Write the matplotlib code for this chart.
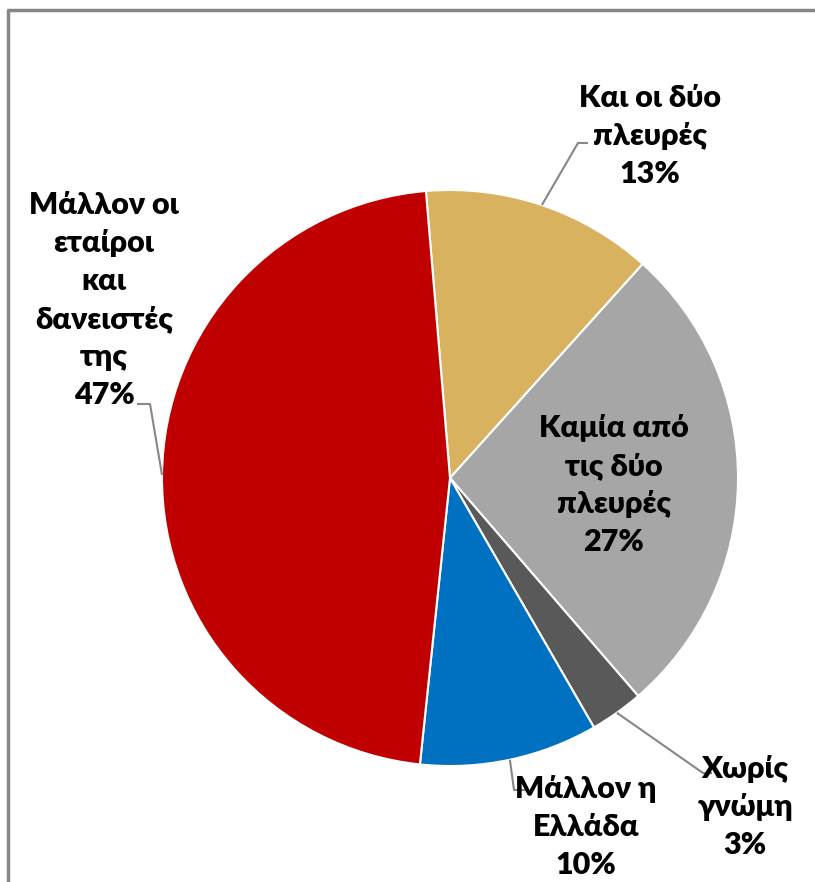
import matplotlib
matplotlib.use('Agg')
import matplotlib.pyplot as plt
import numpy as np

plt.rcParams['font.family'] = ['Lato', 'Noto Sans', 'DejaVu Sans']

labels = ['Και οι δύο\nπλευρές', 'Καμία από\nτις δύο\nπλευρές', 'Χωρίς\nγνώμη',
          'Μάλλον η\nΕλλάδα', 'Μάλλον οι\nεταίροι\nκαι\nδανειστές\nτης']
values = [13, 27, 3, 10, 47]
colors = ['#D9B25F', '#A6A6A6', '#595959', '#0070C0', '#C00000']

W, H = 815, 882
fig = plt.figure(figsize=(W / 100, H / 100), dpi=100)
ax = fig.add_axes([0, 0, 1, 1])

def py(y):
    return H - y

cx, cy, R = 450, py(478), 288
wedges, _ = ax.pie(values, colors=colors, startangle=94.8, counterclock=False,
                   center=(cx, cy), radius=R, frame=True,
                   wedgeprops=dict(edgecolor='white', linewidth=1.5))
ax.set_xlim(0, W)
ax.set_ylim(0, H)
ax.set_aspect('equal')
ax.axis('off')

# label layout: (text x, text y, elbow, line end) in pixel coords; None = inside
layout = [
    (650, 136, (578, 143), (588, 143)),
    (614, 485, None, None),
    (745, 807, (703, 773), (712, 773)),
    (586, 827, (514, 790), (527, 790)),
    (104, 300, (150, 404), (137, 404)),
]

for w, lab, v, (tx, ty, elb, end) in zip(wedges, labels, values, layout):
    ax.text(tx, py(ty), f'{lab}\n{v}%', ha='center', va='center',
            fontsize=22, fontweight='heavy', color='black', linespacing=1.44)
    if elb is None:
        continue
    mid = np.deg2rad((w.theta1 + w.theta2) / 2)
    ax0, ay0 = cx + R * np.cos(mid), cy + R * np.sin(mid)
    ax.plot([ax0, elb[0], end[0]], [ay0, py(elb[1]), py(end[1])],
            color='#868686', lw=1.5, solid_capstyle='butt')

# chart border (top and left visible)
ax.plot([8, 8, W + 5], [-5, py(10), py(10)], color='#868686', lw=2.5, clip_on=False)

fig.savefig('out.png', dpi=100)
